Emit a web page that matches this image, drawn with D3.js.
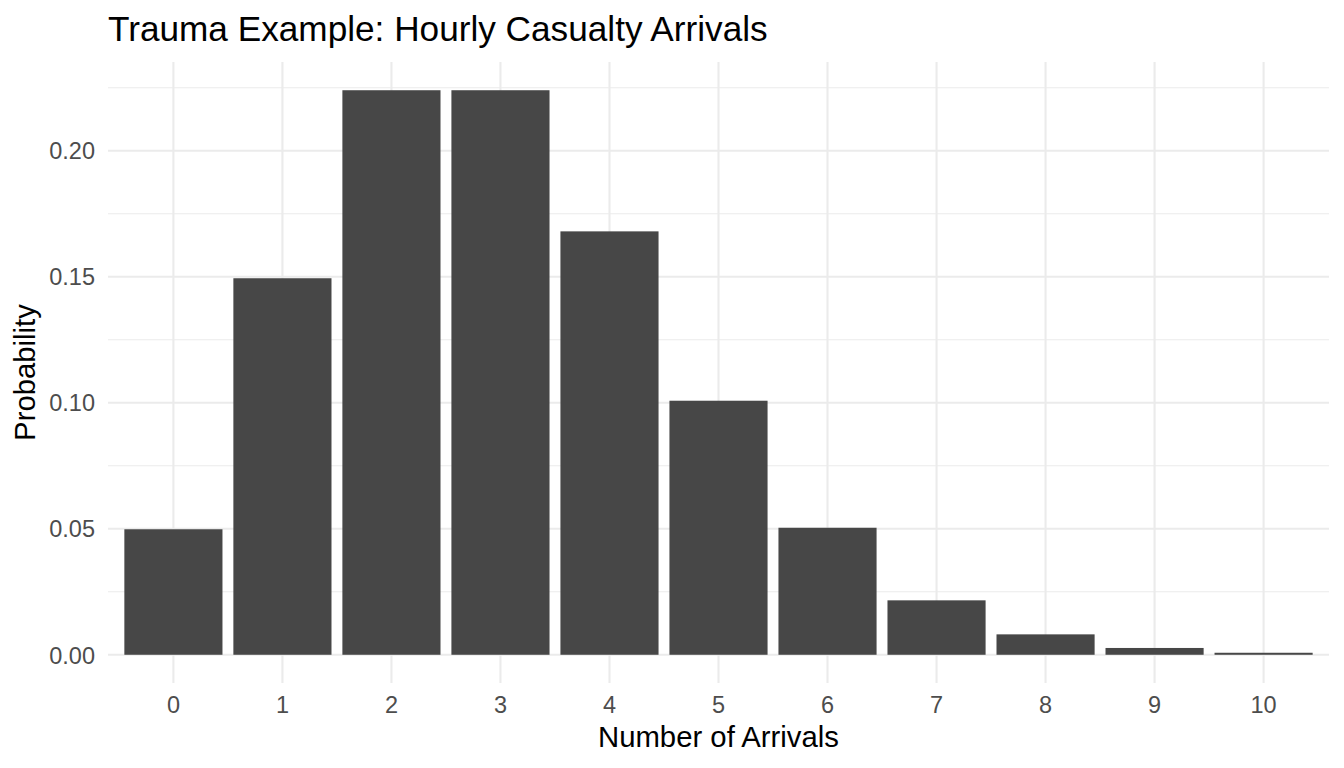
<!DOCTYPE html>
<html>
<head>
<meta charset="utf-8">
<script src="https://cdn.jsdelivr.net/npm/d3@7"></script>
<style>
  html, body { margin: 0; padding: 0; background: #fff; }
  svg { display: block; font-family: "Liberation Sans", Arial, Helvetica, sans-serif; }
</style>
</head>
<body>
<svg id="chart" width="1344" height="768"></svg>
<script>
const categories = ["0", "1", "2", "3", "4", "5", "6", "7", "8", "9", "10"];
const probabilities = [0.0498, 0.1494, 0.2240, 0.2240, 0.1680, 0.1008, 0.0504, 0.0216, 0.0081, 0.0027, 0.0008];
const yTicks = [0, 0.05, 0.10, 0.15, 0.20];
const yMinorTicks = [0.025, 0.075, 0.125, 0.175, 0.225];
const titleText = "Trauma Example: Hourly Casualty Arrivals";
const xTitle = "Number of Arrivals";
const yTitle = "Probability";

const W = 1344, H = 768;
const panel = { left: 108, right: 1329, top: 62, bottom: 683 };
const svg = d3.select("#chart");

const x = d3.scaleBand()
  .domain(categories)
  .range([panel.left, panel.right])
  .paddingInner(0.1)
  .paddingOuter(0.15);

const ymax = d3.max(probabilities);
const y = d3.scaleLinear()
  .domain([-ymax * 0.05, ymax * 1.05])
  .range([panel.bottom, panel.top]);

const grid = svg.append("g");
// minor horizontal
grid.selectAll("line.minor").data(yMinorTicks).join("line")
  .attr("x1", panel.left).attr("x2", panel.right)
  .attr("y1", d => y(d)).attr("y2", d => y(d))
  .attr("stroke", "#ebebeb").attr("stroke-width", 1.1);
// major horizontal
grid.selectAll("line.majorY").data(yTicks).join("line")
  .attr("x1", panel.left).attr("x2", panel.right)
  .attr("y1", d => y(d)).attr("y2", d => y(d))
  .attr("stroke", "#ebebeb").attr("stroke-width", 2.1);
// major vertical
grid.selectAll("line.majorX").data(categories).join("line")
  .attr("y1", panel.top).attr("y2", panel.bottom)
  .attr("x1", d => x(d) + x.bandwidth() / 2).attr("x2", d => x(d) + x.bandwidth() / 2)
  .attr("stroke", "#ebebeb").attr("stroke-width", 2.1);

// bars
svg.append("g").selectAll("rect").data(categories).join("rect")
  .attr("x", d => x(d))
  .attr("width", x.bandwidth())
  .attr("y", (d, i) => y(probabilities[i]))
  .attr("height", (d, i) => y(0) - y(probabilities[i]))
  .attr("fill", "#474747");

// y axis (no line, no ticks)
const yAxis = svg.append("g")
  .attr("transform", `translate(${panel.left - 13},0)`)
  .call(d3.axisLeft(y).tickValues(yTicks).tickFormat(d3.format(".2f")).tickSize(0).tickPadding(0));
yAxis.select(".domain").remove();
yAxis.selectAll("text")
  .attr("font-family", "Liberation Sans, Arial, Helvetica, sans-serif")
  .attr("font-size", 23.5).attr("fill", "#4d4d4d").attr("dy", "0.35em");

// x axis
const xAxis = svg.append("g")
  .attr("transform", `translate(0,${panel.bottom + 13})`)
  .call(d3.axisBottom(x).tickSize(0).tickPadding(0));
xAxis.select(".domain").remove();
xAxis.selectAll("text")
  .attr("font-family", "Liberation Sans, Arial, Helvetica, sans-serif")
  .attr("font-size", 23.5).attr("fill", "#4d4d4d").attr("dy", "0.71em");

// titles
svg.append("text")
  .attr("x", panel.left).attr("y", 41)
  .attr("font-size", 35.2).attr("fill", "#000")
  .text(titleText);

svg.append("text")
  .attr("x", (panel.left + panel.right) / 2).attr("y", 747)
  .attr("text-anchor", "middle")
  .attr("font-size", 29.3).attr("fill", "#000")
  .text(xTitle);

svg.append("text")
  .attr("transform", `translate(35,${(panel.top + panel.bottom) / 2}) rotate(-90)`)
  .attr("text-anchor", "middle")
  .attr("font-size", 29.3).attr("fill", "#000")
  .text(yTitle);
</script>
</body>
</html>
